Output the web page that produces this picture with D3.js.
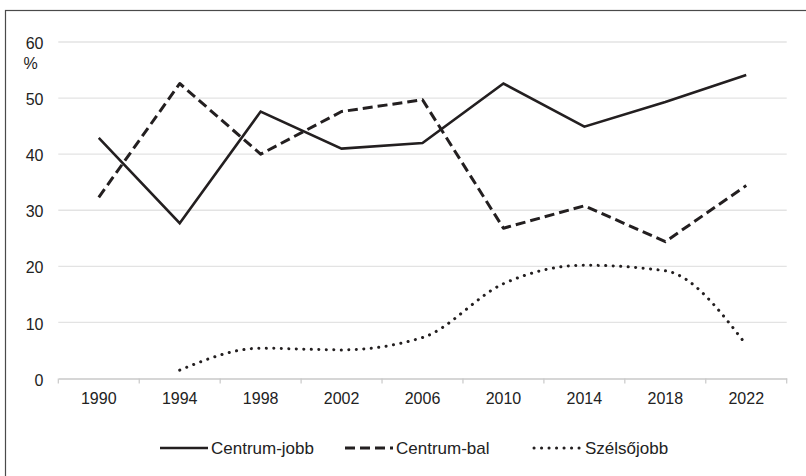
<!DOCTYPE html>
<html>
<head>
<meta charset="utf-8">
<script src="https://cdn.jsdelivr.net/npm/d3@7"></script>
<style>
  html, body { margin: 0; padding: 0; background: #fff; }
  svg { display: block; font-family: "Liberation Sans", Arial, sans-serif; }
</style>
</head>
<body>
<svg id="chart" width="806" height="476"></svg>
<script>
const years = ["1990","1994","1998","2002","2006","2010","2014","2018","2022"];
const centrumJobb = [42.9, 27.7, 47.6, 41.0, 42.0, 52.6, 44.9, 49.3, 54.1];
const centrumBal  = [32.3, 52.6, 40.0, 47.6, 49.7, 26.8, 30.8, 24.4, 34.4];
const szelsojobb  = [null, 1.5, 5.4, 5.1, 7.3, 16.9, 20.2, 19.2, 6.0];
const yTicks = [0, 10, 20, 30, 40, 50, 60];
const seriesNames = ["Centrum-jobb", "Centrum-bal", "Szélsőjobb"];

const svg = d3.select("#chart");
const plot = { left: 58.3, right: 786.7, top: 42, bottom: 378.5 };
const ink = "#231f20";
const textCol = "#222";

// outer frame
svg.append("rect").attr("x", 5.5).attr("y", 10.5).attr("width", 810).attr("height", 480)
  .attr("fill", "none").attr("stroke", "#4a4a4a").attr("stroke-width", 1.2);

const x = d3.scaleBand().domain(years).range([plot.left, plot.right]).padding(0);
const y = d3.scaleLinear().domain([0, 60]).range([plot.bottom, plot.top]);

// gridlines
svg.append("g").selectAll("line").data(yTicks.filter(d => d > 0)).join("line")
  .attr("x1", plot.left).attr("x2", plot.right)
  .attr("y1", d => y(d)).attr("y2", d => y(d))
  .attr("stroke", "#e3e3e3").attr("stroke-width", 1.3);

// y labels
svg.append("g").selectAll("text").data(yTicks).join("text")
  .attr("x", 43.5).attr("y", d => y(d) + 1.5).attr("dy", "0.35em")
  .attr("text-anchor", "end").attr("font-size", 16).attr("fill", textCol)
  .text(d => d);
svg.append("text").attr("x", 23.5).attr("y", 63.5).attr("dy", "0.35em")
  .attr("font-size", 16).attr("fill", textCol).text("%");

// x axis
const xAxis = d3.axisBottom(x).tickSize(0).tickSizeOuter(0);
const gx = svg.append("g").attr("transform", `translate(0,${plot.bottom})`).call(xAxis);
gx.select(".domain").attr("stroke", "#c9c9c9").attr("stroke-width", 1.3);
gx.selectAll("text").attr("font-size", 16).attr("fill", textCol).attr("dy", "0").attr("y", 25.5)
  .attr("font-family", "Liberation Sans, Arial, sans-serif");
// tick marks at band boundaries
const bounds = years.map(d => x(d)).concat([x(years[years.length - 1]) + x.bandwidth()]);
svg.append("g").selectAll("line").data(bounds).join("line")
  .attr("x1", d => d).attr("x2", d => d)
  .attr("y1", plot.bottom).attr("y2", plot.bottom + 5)
  .attr("stroke", "#c9c9c9").attr("stroke-width", 1.2);

const cx = d => x(d) + x.bandwidth() / 2;
const mk = vals => years.map((yr, i) => ({ yr, v: vals[i] })).filter(d => d.v != null);

const lineStraight = d3.line().x(d => cx(d.yr)).y(d => y(d.v));
const lineSmooth = d3.line().x(d => cx(d.yr)).y(d => y(d.v)).curve(d3.curveMonotoneX);

const styles = [
  { dash: null, width: 2.6, cap: "butt" },
  { dash: "10 5", width: 3, cap: "butt" },
  { dash: "0.1 7.4", width: 3, cap: "round" }
];

svg.append("path").datum(mk(centrumJobb)).attr("d", lineStraight)
  .attr("fill", "none").attr("stroke", ink).attr("stroke-width", styles[0].width)
  .attr("stroke-linejoin", "miter");
svg.append("path").datum(mk(centrumBal)).attr("d", lineStraight)
  .attr("fill", "none").attr("stroke", ink).attr("stroke-width", styles[1].width)
  .attr("stroke-dasharray", styles[1].dash).attr("stroke-linejoin", "round");
svg.append("path").datum(mk(szelsojobb)).attr("d", lineSmooth)
  .attr("fill", "none").attr("stroke", ink).attr("stroke-width", styles[2].width)
  .attr("stroke-dasharray", styles[2].dash).attr("stroke-linecap", "round");

// legend
const legendY = 448;
const legendStarts = [160, 345, 534];
const lg = svg.append("g");
seriesNames.forEach((name, i) => {
  const x0 = legendStarts[i];
  const l = lg.append("line").attr("x1", x0).attr("x2", x0 + 48)
    .attr("y1", legendY).attr("y2", legendY)
    .attr("stroke", ink).attr("stroke-width", styles[i].width)
    .attr("stroke-linecap", styles[i].cap);
  if (styles[i].dash) l.attr("stroke-dasharray", styles[i].dash);
  lg.append("text").attr("x", x0 + 51).attr("y", legendY).attr("dy", "0.35em")
    .attr("font-size", 17).attr("fill", textCol).text(name);
});
</script>
</body>
</html>
